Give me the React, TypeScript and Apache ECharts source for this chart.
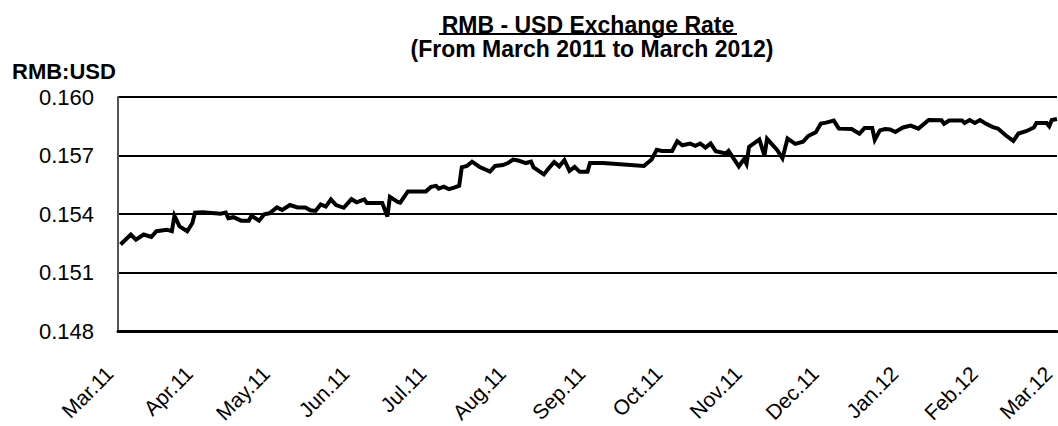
import React, { useEffect, useRef } from 'react';
import * as echarts from 'echarts';

const titleText = 'RMB - USD Exchange Rate';
const subtitleText = '(From March 2011 to March 2012)';
const yAxisTitle = 'RMB:USD';

const monthTicks = [
  '2011-03-01', '2011-04-01', '2011-05-01', '2011-06-01', '2011-07-01', '2011-08-01', '2011-09-01',
  '2011-10-01', '2011-11-01', '2011-12-01', '2012-01-01', '2012-02-01', '2012-03-01',
];
const monthLabels = [
  'Mar.11', 'Apr.11', 'May.11', 'Jun.11', 'Jul.11', 'Aug.11', 'Sep.11',
  'Oct.11', 'Nov.11', 'Dec.11', 'Jan.12', 'Feb.12', 'Mar.12',
];
const yTicks = [0.148, 0.151, 0.154, 0.157, 0.16];

const dates = [
  '2011-03-02', '2011-03-06', '2011-03-08', '2011-03-11', '2011-03-14', '2011-03-16', '2011-03-20', '2011-03-22',
  '2011-03-23', '2011-03-25', '2011-03-28', '2011-03-30', '2011-03-31', '2011-04-03', '2011-04-10', '2011-04-12',
  '2011-04-13', '2011-04-15', '2011-04-18', '2011-04-21', '2011-04-22', '2011-04-25', '2011-04-27', '2011-04-29',
  '2011-05-02', '2011-05-04', '2011-05-07', '2011-05-10', '2011-05-13', '2011-05-15', '2011-05-17', '2011-05-19',
  '2011-05-21', '2011-05-23', '2011-05-25', '2011-05-28', '2011-05-31', '2011-06-02', '2011-06-05', '2011-06-06',
  '2011-06-12', '2011-06-14', '2011-06-15', '2011-06-18', '2011-06-19', '2011-06-22', '2011-06-29', '2011-07-01',
  '2011-07-03', '2011-07-04', '2011-07-06', '2011-07-08', '2011-07-10', '2011-07-12', '2011-07-13', '2011-07-15',
  '2011-07-17', '2011-07-20', '2011-07-24', '2011-07-26', '2011-07-29', '2011-07-31', '2011-08-02', '2011-08-04',
  '2011-08-07', '2011-08-09', '2011-08-10', '2011-08-14', '2011-08-16', '2011-08-18', '2011-08-20', '2011-08-22',
  '2011-08-24', '2011-08-26', '2011-08-28', '2011-08-31', '2011-09-01', '2011-09-06', '2011-09-22', '2011-09-25',
  '2011-09-27', '2011-09-29', '2011-10-03', '2011-10-05', '2011-10-07', '2011-10-10', '2011-10-12', '2011-10-14',
  '2011-10-16', '2011-10-18', '2011-10-20', '2011-10-24', '2011-10-25', '2011-10-29', '2011-10-31', '2011-11-01',
  '2011-11-02', '2011-11-06', '2011-11-08', '2011-11-09', '2011-11-13', '2011-11-15', '2011-11-17', '2011-11-20',
  '2011-11-23', '2011-11-25', '2011-11-27', '2011-11-28', '2011-11-30', '2011-12-02', '2011-12-05', '2011-12-07',
  '2011-12-12', '2011-12-15', '2011-12-17', '2011-12-20', '2011-12-21', '2011-12-23', '2011-12-25', '2011-12-27',
  '2011-12-29', '2012-01-01', '2012-01-04', '2012-01-07', '2012-01-11', '2012-01-16', '2012-01-17', '2012-01-19',
  '2012-01-24', '2012-01-25', '2012-01-27', '2012-01-29', '2012-01-31', '2012-02-02', '2012-02-05', '2012-02-07',
  '2012-02-10', '2012-02-13', '2012-02-15', '2012-02-18', '2012-02-21', '2012-02-22', '2012-02-26', '2012-02-27',
  '2012-02-28', '2012-03-01',
];

const rates = [
  0.15245, 0.15296, 0.1527, 0.15296, 0.15284, 0.15313, 0.15321, 0.15313,
  0.15392, 0.15338, 0.15313, 0.15355, 0.15408, 0.1541, 0.15403, 0.15409,
  0.1538, 0.15385, 0.15367, 0.15367, 0.15392, 0.15367, 0.154, 0.15405,
  0.15435, 0.15422, 0.15447, 0.15435, 0.15435, 0.1542, 0.15417, 0.1545,
  0.15439, 0.15476, 0.15447, 0.15433, 0.15477, 0.15461, 0.15476, 0.15458,
  0.15458, 0.15388, 0.15489, 0.15463, 0.15459, 0.15517, 0.15517, 0.1554,
  0.15545, 0.15531, 0.15541, 0.15528, 0.15536, 0.15546, 0.1564, 0.15647,
  0.15669, 0.15642, 0.15618, 0.15647, 0.15652, 0.15662, 0.1568, 0.15675,
  0.15662, 0.15669, 0.1564, 0.15604, 0.15637, 0.15667, 0.15645, 0.15677,
  0.15622, 0.15642, 0.15617, 0.15617, 0.15662, 0.15662, 0.15647, 0.1568,
  0.1573, 0.15724, 0.15724, 0.15773, 0.15753, 0.15762, 0.1575, 0.15762,
  0.15741, 0.15762, 0.15723, 0.15711, 0.15724, 0.15645, 0.15682, 0.15657,
  0.15745, 0.15783, 0.157, 0.15786, 0.15728, 0.15686, 0.15787, 0.1576,
  0.15771, 0.158, 0.15813, 0.1582, 0.15864, 0.15869, 0.15879, 0.15838,
  0.15836, 0.15812, 0.15841, 0.15841, 0.15781, 0.15829, 0.15836, 0.15834,
  0.15821, 0.15844, 0.15854, 0.15838, 0.15882, 0.15881, 0.15863, 0.1588,
  0.1588, 0.15867, 0.15882, 0.15867, 0.15882, 0.15866, 0.15846, 0.15839,
  0.15804, 0.15775, 0.15813, 0.15825, 0.15844, 0.15867, 0.15867, 0.1585,
  0.15882, 0.15887,
];

const FONT = '"Liberation Sans", Arial, sans-serif';
const DAY = 86400000;

function toTime(s: string): number {
  const [y, m, d] = s.split('-').map(Number);
  return Date.UTC(y, m - 1, d);
}

export default function App() {
  const ref = useRef<HTMLDivElement>(null);

  useEffect(() => {
    if (!ref.current) return;
    const chart = echarts.init(ref.current, undefined, { renderer: 'svg' });
    const t0 = toTime(monthTicks[0]);
    const dayOf = (s: string) => Math.round((toTime(s) - t0) / DAY);
    const tickDays = monthTicks.map(dayOf);
    const seriesData = dates.map((d, i) => [dayOf(d), rates[i]]);

    chart.setOption({
      animation: false,
      backgroundColor: '#ffffff',
      grid: { left: 118, right: 0, top: 97, bottom: 91, containLabel: false },
      graphic: [
        {
          type: 'text',
          style: {
            text: titleText, x: 588, y: 24.5, textAlign: 'center', textVerticalAlign: 'middle',
            font: `bold 23px ${FONT}`, fill: '#000',
          },
        },
        {
          type: 'line',
          shape: { x1: 439, y1: 34, x2: 737, y2: 34 },
          style: { stroke: '#000', lineWidth: 2 },
        },
        {
          type: 'text',
          style: {
            text: subtitleText, x: 592, y: 48.5, textAlign: 'center', textVerticalAlign: 'middle',
            font: `bold 23px ${FONT}`, fill: '#000',
          },
        },
        {
          type: 'text',
          style: {
            text: yAxisTitle, x: 12, y: 71.5, textAlign: 'left', textVerticalAlign: 'middle',
            font: `bold 22px ${FONT}`, fill: '#000',
          },
        },
      ],
      xAxis: {
        type: 'value',
        min: tickDays[0],
        max: tickDays[tickDays.length - 1],
        axisLine: { show: true, onZero: false, lineStyle: { color: '#000', width: 3 } },
        axisTick: { show: false, customValues: tickDays },
        splitLine: { show: false },
        axisLabel: {
          customValues: tickDays,
          rotate: 45,
          margin: 30,
          padding: [0, 12, 0, 0],
          color: '#000',
          fontSize: 21,
          fontFamily: FONT,
          formatter: (v: number) => {
            const i = tickDays.indexOf(Math.round(v));
            return i >= 0 ? monthLabels[i] : '';
          },
        },
      },
      yAxis: {
        type: 'value',
        min: yTicks[0],
        max: yTicks[yTicks.length - 1],
        axisLine: { show: true, lineStyle: { color: '#555', width: 2 } },
        axisTick: { show: false, customValues: yTicks },
        axisLabel: {
          customValues: yTicks,
          margin: 24,
          color: '#000',
          fontSize: 22,
          fontFamily: FONT,
          formatter: (v: number) => v.toFixed(3),
        },
        splitLine: { show: true, lineStyle: { color: '#000', width: 2 } },
      },
      series: [
        {
          type: 'line',
          data: seriesData,
          showSymbol: false,
          symbol: 'none',
          lineStyle: { color: '#000', width: 4, join: 'miter' },
          silent: true,
        },
      ],
    });

    return () => chart.dispose();
  }, []);

  return (
    <div
      ref={ref}
      style={{ position: 'fixed', left: 0, top: 0, width: 1058, height: 426, background: '#fff' }}
    />
  );
}
